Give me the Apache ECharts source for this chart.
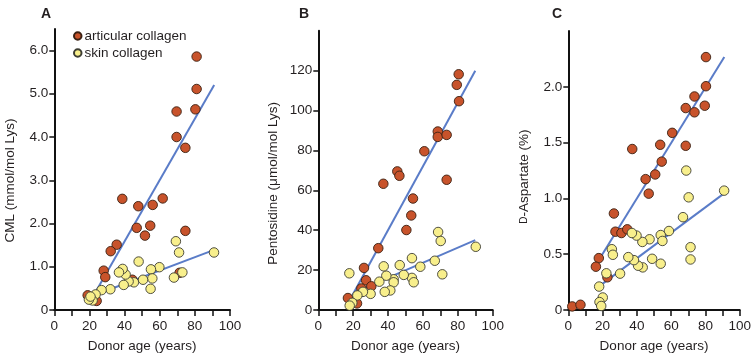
<!DOCTYPE html>
<html>
<head>
<meta charset="utf-8">
<script src="https://cdn.jsdelivr.net/npm/echarts@6/dist/echarts.min.js"></script>
<style>html,body{margin:0;padding:0;background:#fff}#c{width:754px;height:358px}</style>
</head>
<body>
<div id="c"></div>
<script>
// ---- data ----
const panelLetters = ['A', 'B', 'C'];
const xTitle = 'Donor age (years)';
const yTitles = ['CML (mmol/mol Lys)', 'Pentosidine (\u03bcmol/mol Lys)', '{sc|D}-Aspartate (%)'];
const seriesNames = ['articular collagen', 'skin collagen'];

const xTicks = [0, 10, 20, 30, 40, 50, 60, 70, 80, 90, 100];
const xLabels = [0, 20, 40, 60, 80, 100];
const yTicksA = [0, 1, 2, 3, 4, 5, 6];
const yTicksB = [0, 20, 40, 60, 80, 100, 120];
const yTicksC = [0, 0.5, 1, 1.5, 2];

const cmlArticular = [[81,5.86],[81,5.11],[80.3,4.64],[69.6,4.59],[69.6,4.0],[74.6,3.75],[38.7,2.57],[47.8,2.40],[56,2.43],[61.7,2.58],[46.9,1.90],[54.6,1.95],[51.6,1.72],[74.6,1.83],[35.5,1.51],[32.1,1.36],[28.1,0.91],[29,0.76],[19,0.34],[24.1,0.21],[44.4,0.70],[71.3,0.86]];
const cmlSkin = [[90.9,1.33],[69.2,1.59],[71,1.33],[68.1,0.75],[72.9,0.87],[59.8,0.99],[55,0.94],[55.8,0.73],[54.8,0.49],[50.5,0.70],[48,1.12],[45.3,0.64],[42.3,0.66],[40.6,0.82],[38.9,0.95],[36.8,0.87],[39.5,0.58],[31.9,0.48],[26.9,0.46],[23.5,0.36],[21.8,0.22],[19.7,0.24],[20.6,0.31]];
const cmlFitArticular = [[23,0.38],[91,5.2]];
const cmlFitSkin = [[22,0.33],[91,1.39]];

const pentArticular = [[80.5,118.2],[79.4,112.9],[80.7,104.7],[68.5,89.5],[68.5,86.8],[73.6,87.8],[60.8,79.6],[73.6,65.3],[45.3,69.5],[46.5,67.3],[37.3,63.3],[54.3,55.9],[53.3,47.4],[50.5,40.1],[34.4,31.0],[26.2,21.1],[27.4,14.9],[24.7,10.8],[30.4,11.9],[17,6.0],[22.2,3.3]];
const pentSkin = [[90.3,31.7],[68.7,39.1],[70.2,34.6],[71.1,17.9],[66.8,24.7],[58.5,21.7],[53.7,26],[53.7,16.1],[54.7,13.9],[49,17.6],[46.7,22.5],[43.2,15.4],[43.2,13.9],[41.3,9.8],[38.1,9.1],[39,17.2],[37.5,21.9],[35,14.2],[30,8.1],[25.6,9.1],[22.4,7.3],[19.5,3.6],[18,2.2],[17.8,18.4]];
const pentFitArticular = [[19,6.5],[90,120]];
const pentFitSkin = [[21,9],[90,35]];

const aspArticular = [[80.3,2.267],[80.3,2.006],[79.6,1.831],[73.6,1.914],[73.6,1.772],[68.5,1.81],[68.5,1.472],[60.6,1.588],[53.6,1.481],[54.5,1.33],[50.7,1.215],[45.1,1.173],[46.9,1.043],[37.3,1.443],[26.6,0.865],[27.5,0.702],[31,0.69],[34.4,0.723],[17.8,0.465],[16.1,0.388],[22.8,0.293],[2.3,0.032],[7.1,0.047]];
const aspSkin = [[90.9,1.07],[68.8,1.25],[70.2,1.01],[66.9,0.832],[71.3,0.563],[71.3,0.453],[58.7,0.708],[53.9,0.672],[54.9,0.619],[53.9,0.415],[48.9,0.459],[47.4,0.634],[43.2,0.61],[43.4,0.382],[40.7,0.397],[39.8,0.667],[37.1,0.69],[38.3,0.447],[35,0.474],[30.2,0.326],[25.4,0.545],[26,0.495],[22.2,0.329],[18,0.21],[20.1,0.112],[18.2,0.071],[19.2,0.036]];
const aspFitArticular = [[18.7,0.47],[91,2.267]];
const aspFitSkin = [[19.1,0.225],[90.9,1.045]];

// ---- styling ----
const FONT = '"Liberation Sans", Arial, sans-serif';
const TXT = '#231f20';
const AX = '#111111';
const ORANGE = '#c8532b';
const YELLOW = '#f8ef8c';
const LINE = '#5a7cc8';

const grids = [
  {left: 54.3, width: 175.7, top: 28.9, height: 282.8},
  {left: 318.3, width: 174.4, top: 30.8, height: 281.5},
  {left: 568.3, width: 174.4, top: 31.1, height: 281.2}
];
const yMax = [6.5, 140, 2.5];
const yInt = [1, 20, 0.5];
const yTicks = [yTicksA, yTicksB, yTicksC];
const yFmt = [
  v => v === 0 ? '0' : v.toFixed(1),
  v => String(v),
  v => v === 0 ? '0' : v.toFixed(1)
];
const yGap = [37, 38, 37];
const yShift = [22, 26, 12];

const chart = echarts.init(document.getElementById('c'), null, {renderer: 'canvas'});

const xAxes = grids.map((g, i) => ({
  type: 'value', gridIndex: i, min: 0, max: 100, interval: 10,
  axisLine: {show: true, onZero: false, lineStyle: {color: AX, width: 2}},
  axisTick: {show: true, inside: false, length: 6, customValues: xTicks, lineStyle: {color: AX, width: 1.5}},
  axisLabel: {customValues: xLabels, margin: 9, fontSize: 13.5, color: TXT, fontFamily: FONT},
  splitLine: {show: false},
  name: xTitle, nameLocation: 'middle', nameGap: 29,
  nameTextStyle: {fontSize: 13.5, color: TXT, fontFamily: FONT}
}));

const yAxes = grids.map((g, i) => ({
  type: 'value', gridIndex: i, min: 0, max: yMax[i], interval: yInt[i],
  axisLine: {show: true, onZero: false, lineStyle: {color: AX, width: 2}},
  axisTick: {show: true, inside: false, length: 5, customValues: yTicks[i], lineStyle: {color: AX, width: 1.5}},
  axisLabel: {customValues: yTicks[i], formatter: yFmt[i], margin: 6, fontSize: 13.5, color: TXT, fontFamily: FONT},
  splitLine: {show: false},
  name: yTitles[i], nameLocation: 'middle', nameGap: yGap[i], nameRotate: 90,
  nameTextStyle: {fontSize: 13.5, color: TXT, fontFamily: FONT, padding: [0, yShift[i], 0, 0],
    rich: {sc: {fontSize: 10, color: TXT, fontFamily: FONT}}}
}));

const panels = [
  [cmlArticular, cmlSkin, cmlFitArticular, cmlFitSkin],
  [pentArticular, pentSkin, pentFitArticular, pentFitSkin],
  [aspArticular, aspSkin, aspFitArticular, aspFitSkin]
];

const series = [];
panels.forEach((p, i) => {
  series.push({type: 'line', name: 'fitA' + i, xAxisIndex: i, yAxisIndex: i, data: p[2], symbol: 'none', silent: true, z: 1, lineStyle: {color: LINE, width: 2}});
  series.push({type: 'line', name: 'fitS' + i, xAxisIndex: i, yAxisIndex: i, data: p[3], symbol: 'none', silent: true, z: 1, lineStyle: {color: LINE, width: 2}});
  series.push({type: 'scatter', name: seriesNames[0], xAxisIndex: i, yAxisIndex: i, data: p[0], symbolSize: 9.5, z: 3,
    itemStyle: {color: ORANGE, borderColor: '#3a2012', borderWidth: 0.9, opacity: 1}});
  series.push({type: 'scatter', name: seriesNames[1], xAxisIndex: i, yAxisIndex: i, data: p[1], symbolSize: 9.5, z: 4,
    itemStyle: {color: YELLOW, borderColor: '#3d3d33', borderWidth: 0.9, opacity: 1}});
});

chart.setOption({
  animation: false,
  backgroundColor: '#ffffff',
  title: panelLetters.map((t, i) => ({
    text: t, left: [36, 294, 547][i], top: 2,
    textStyle: {fontSize: 14, fontWeight: 'bold', color: TXT, fontFamily: FONT}
  })),
  legend: {
    data: seriesNames, orient: 'vertical', left: 68, top: 24,
    icon: 'circle', itemWidth: 7.5, itemHeight: 7.5, itemGap: 3,
    textStyle: {fontSize: 13.5, color: TXT, fontFamily: FONT, padding: [0, 0, 0, -2]}
  },
  grid: grids,
  xAxis: xAxes,
  yAxis: yAxes,
  series: series
});
</script>
</body>
</html>
